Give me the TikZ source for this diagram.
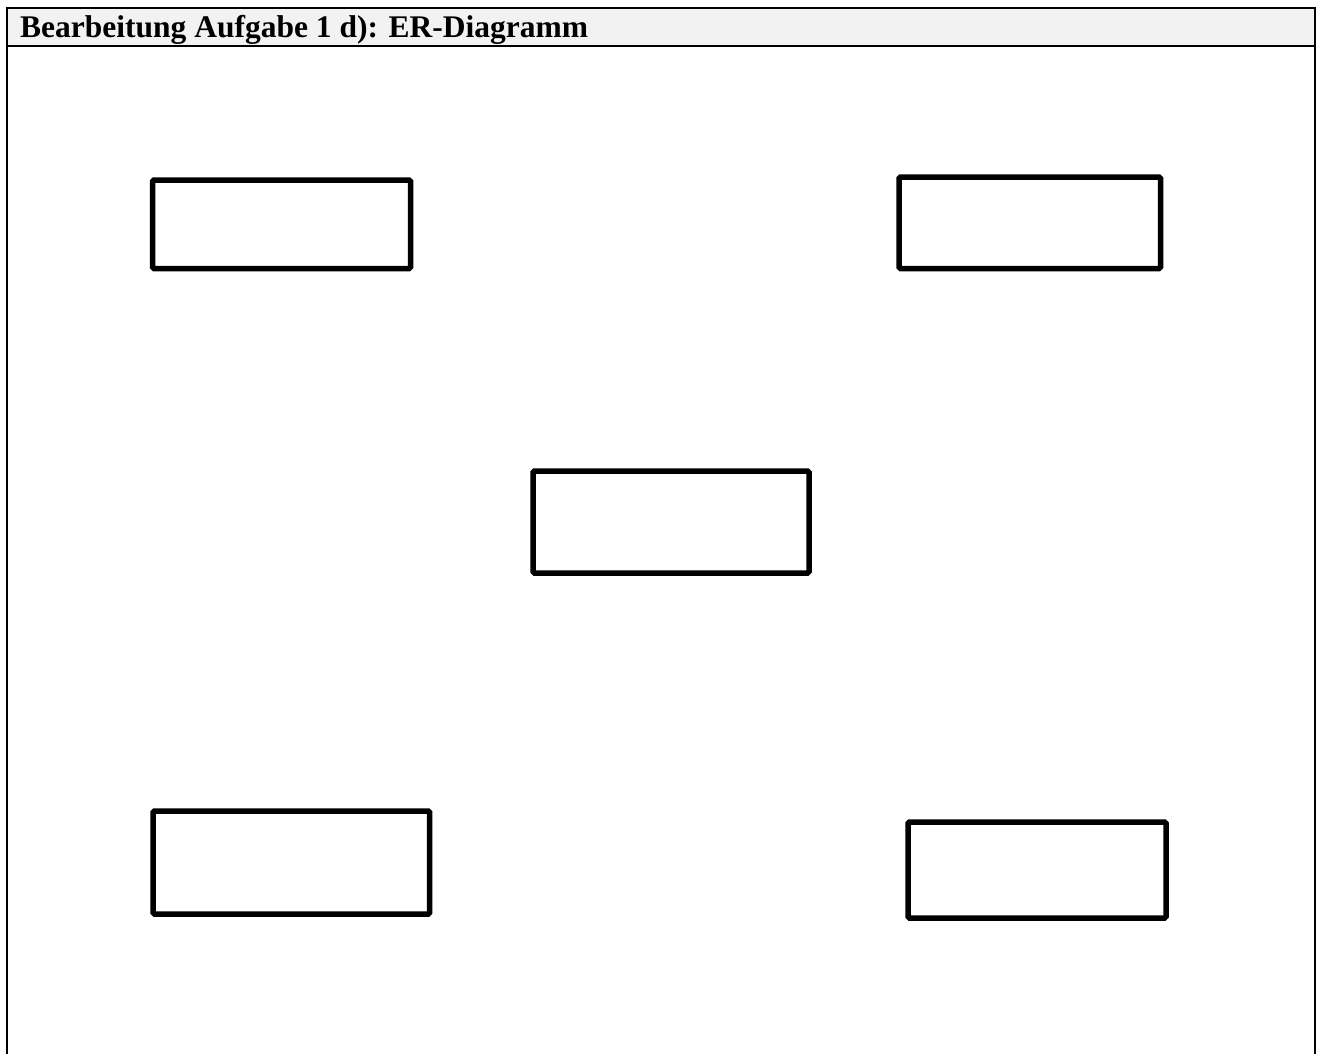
\documentclass[tikz,border=0pt]{standalone}
\usepackage{fontspec}
\setmainfont{Liberation Serif}
\definecolor{headgray}{HTML}{F2F2F2}
\tikzset{
  erbox/.style={draw=black, line width=5.5pt, rounded corners=1.5pt, inner sep=0pt, outer sep=0pt},
  frameline/.style={draw=black, line width=2.2pt},
}
\begin{document}
\begin{tikzpicture}[x=1pt,y=-1pt]
\useasboundingbox (0,0) rectangle (1317,1054);
% header
\fill[headgray] (7,7.7) rectangle (1315,46);
\draw[frameline] (7,1054) -- (7,7.7) -- (1315,7.7) -- (1315,1054);
\draw[frameline] (7,46) -- (1315,46);
\node[anchor=base west, inner sep=0pt, font=\bfseries\fontsize{31.5}{36}\selectfont] (title) at (20,37.5) {Bearbeitung Aufgabe 1 d): ER-Diagramm};
% entity boxes
\node[erbox, minimum width=258pt, minimum height=88.5pt] (b1) at (281.5,224.25) {};
\node[erbox, minimum width=261.5pt, minimum height=91.5pt] (b2) at (1029.75,222.75) {};
\node[erbox, minimum width=276pt, minimum height=102pt] (b3) at (671,522) {};
\node[erbox, minimum width=276.7pt, minimum height=103pt] (b4) at (291.35,862.5) {};
\node[erbox, minimum width=258pt, minimum height=96pt] (b5) at (1037,870) {};
\end{tikzpicture}
\end{document}
